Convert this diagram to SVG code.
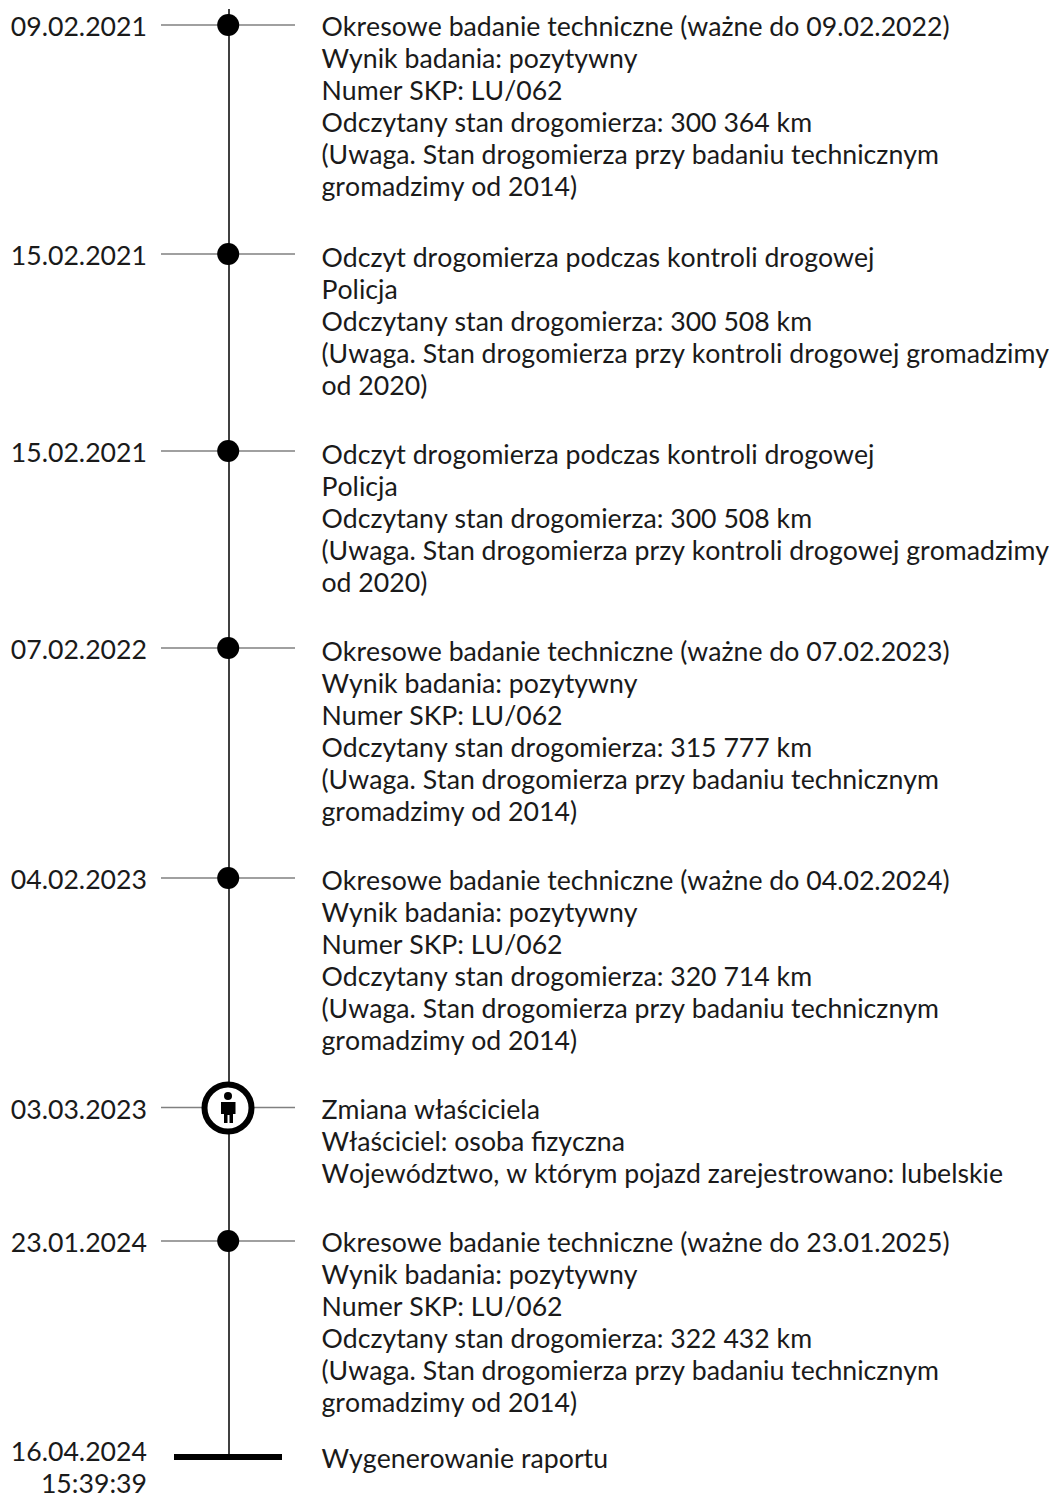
<svg xmlns="http://www.w3.org/2000/svg" width="1053" height="1495" viewBox="0 0 1053 1495">
<defs>
<style>
text{font-family:Lato,"Open Sans",sans-serif;font-size:26.67px;fill:#1a1a1a;font-kerning:none}
.d{text-anchor:end}
.t{stroke:#808080;stroke-width:1.5}
.dot{fill:#000}
</style>
</defs>
<rect width="1053" height="1495" fill="#fff"/>
<g id="connectors">
<line x1="229" y1="9" x2="229" y2="1456" stroke="#000" stroke-width="1.5"/>
<line class="t" x1="161" y1="25" x2="295" y2="25"/>
<line class="t" x1="161" y1="254" x2="295" y2="254"/>
<line class="t" x1="161" y1="451" x2="295" y2="451"/>
<line class="t" x1="161" y1="648" x2="295" y2="648"/>
<line class="t" x1="161" y1="878" x2="295" y2="878"/>
<line class="t" x1="161" y1="1107.5" x2="295" y2="1107.5"/>
<line class="t" x1="161" y1="1241" x2="295" y2="1241"/>
</g>
<g id="n1"><circle class="dot" cx="228.200" cy="25" r="11"/>
<text class="d" x="147" y="36">09.02.2021</text>
<text x="321.500" y="36">Okresowe badanie techniczne (ważne do 09.02.2022)</text>
<text x="321.500" y="68">Wynik badania: pozytywny</text>
<text x="321.500" y="100">Numer SKP: LU/062</text>
<text x="321.500" y="132">Odczytany stan drogomierza: 300 364 km</text>
<text x="321.500" y="164">(Uwaga. Stan drogomierza przy badaniu technicznym</text>
<text x="321.500" y="196">gromadzimy od 2014)</text></g>
<g id="n2"><circle class="dot" cx="228.200" cy="254" r="11"/>
<text class="d" x="147" y="265">15.02.2021</text>
<text x="321.500" y="267">Odczyt drogomierza podczas kontroli drogowej</text>
<text x="321.500" y="299">Policja</text>
<text x="321.500" y="331">Odczytany stan drogomierza: 300 508 km</text>
<text x="321.500" y="363">(Uwaga. Stan drogomierza przy kontroli drogowej gromadzimy</text>
<text x="321.500" y="395">od 2020)</text></g>
<g id="n3"><circle class="dot" cx="228.200" cy="451" r="11"/>
<text class="d" x="147" y="462">15.02.2021</text>
<text x="321.500" y="464">Odczyt drogomierza podczas kontroli drogowej</text>
<text x="321.500" y="496">Policja</text>
<text x="321.500" y="528">Odczytany stan drogomierza: 300 508 km</text>
<text x="321.500" y="560">(Uwaga. Stan drogomierza przy kontroli drogowej gromadzimy</text>
<text x="321.500" y="592">od 2020)</text></g>
<g id="n4"><circle class="dot" cx="228.200" cy="648" r="11"/>
<text class="d" x="147" y="659">07.02.2022</text>
<text x="321.500" y="661">Okresowe badanie techniczne (ważne do 07.02.2023)</text>
<text x="321.500" y="693">Wynik badania: pozytywny</text>
<text x="321.500" y="725">Numer SKP: LU/062</text>
<text x="321.500" y="757">Odczytany stan drogomierza: 315 777 km</text>
<text x="321.500" y="789">(Uwaga. Stan drogomierza przy badaniu technicznym</text>
<text x="321.500" y="821">gromadzimy od 2014)</text></g>
<g id="n5"><circle class="dot" cx="228.200" cy="878" r="11"/>
<text class="d" x="147" y="889">04.02.2023</text>
<text x="321.500" y="890">Okresowe badanie techniczne (ważne do 04.02.2024)</text>
<text x="321.500" y="922">Wynik badania: pozytywny</text>
<text x="321.500" y="954">Numer SKP: LU/062</text>
<text x="321.500" y="986">Odczytany stan drogomierza: 320 714 km</text>
<text x="321.500" y="1018">(Uwaga. Stan drogomierza przy badaniu technicznym</text>
<text x="321.500" y="1050">gromadzimy od 2014)</text></g>
<g id="n6"><circle cx="228" cy="1108" r="23.500" fill="#fff" stroke="#000" stroke-width="6"/>
<circle class="dot" cx="228" cy="1096" r="4"/>
<path class="dot" d="M221 1102h14.500v12h-2.500v9h-3.500v-8h-2v8h-3.500v-9h-3z"/>
<text class="d" x="147" y="1119">03.03.2023</text>
<text x="321.500" y="1119">Zmiana właściciela</text>
<text x="321.500" y="1151">Właściciel: osoba fizyczna</text>
<text x="321.500" y="1183">Województwo, w którym pojazd zarejestrowano: lubelskie</text></g>
<g id="n7"><circle class="dot" cx="228.200" cy="1241" r="11"/>
<text class="d" x="147" y="1252">23.01.2024</text>
<text x="321.500" y="1252">Okresowe badanie techniczne (ważne do 23.01.2025)</text>
<text x="321.500" y="1284">Wynik badania: pozytywny</text>
<text x="321.500" y="1316">Numer SKP: LU/062</text>
<text x="321.500" y="1348">Odczytany stan drogomierza: 322 432 km</text>
<text x="321.500" y="1380">(Uwaga. Stan drogomierza przy badaniu technicznym</text>
<text x="321.500" y="1412">gromadzimy od 2014)</text></g>
<g id="n8"><rect class="dot" x="174" y="1454" width="108" height="6"/>
<text class="d" x="147" y="1461">16.04.2024</text>
<text class="d" x="147" y="1493">15:39:39</text>
<text x="321.500" y="1468">Wygenerowanie raportu</text></g>
</svg>
